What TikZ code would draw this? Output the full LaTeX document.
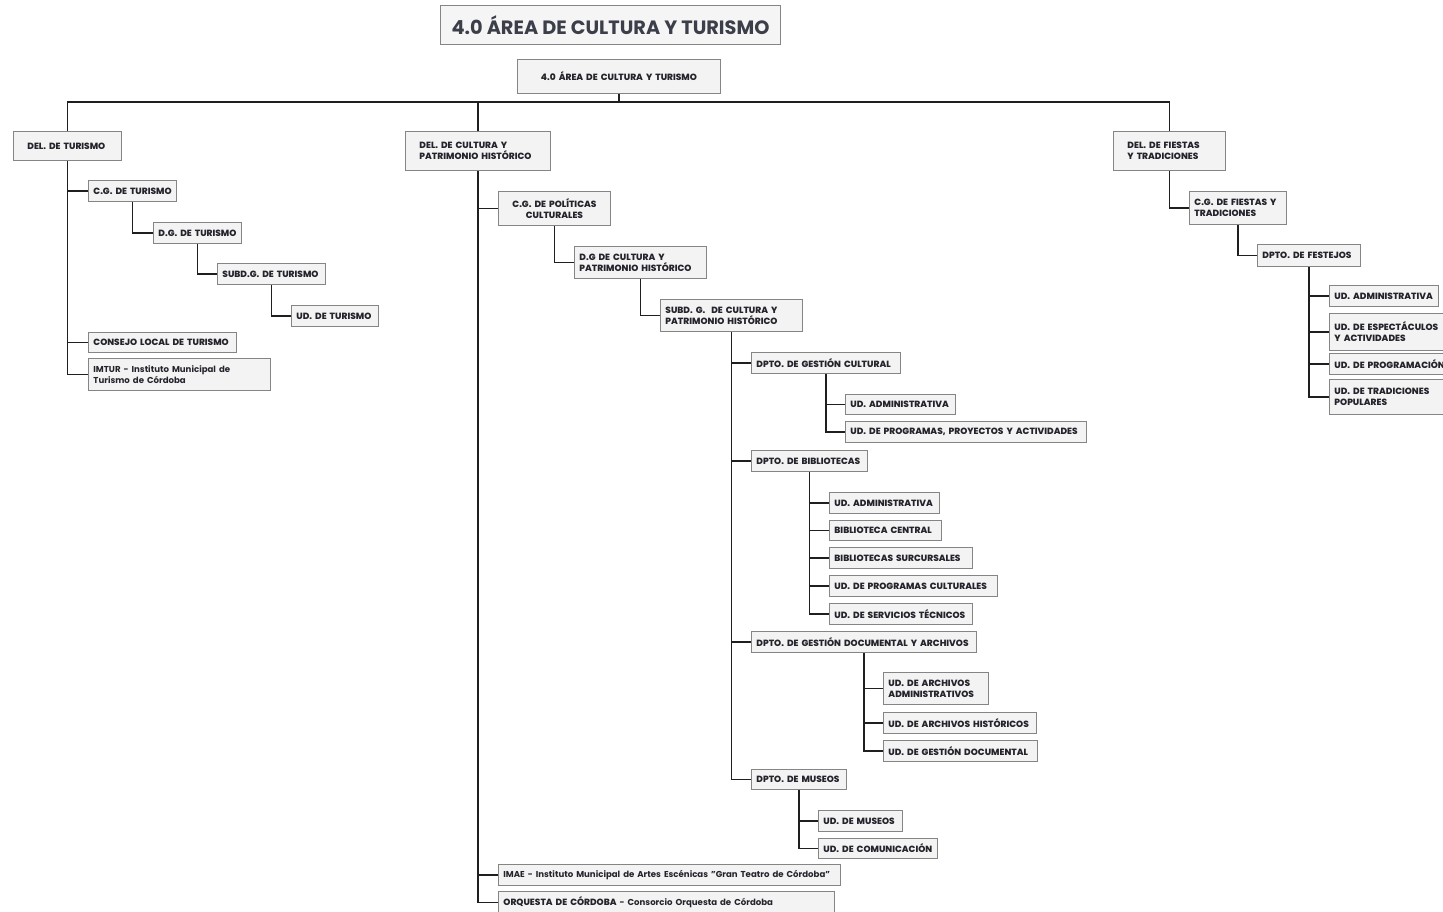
\documentclass[tikz,border=0pt]{standalone}
\usepackage{fontspec}
\setmainfont{Poppins}
\newfontfamily\boxfont{Poppins ExtraBold}
\usetikzlibrary{shadows}
\definecolor{boxfill}{HTML}{F3F3F3}
\definecolor{boxline}{HTML}{858585}
\definecolor{txt}{HTML}{24242C}
\definecolor{titletxt}{HTML}{3C3F4A}
\def\bxal{left}
\newcommand\mixed{\fontsize{8.6}{11}\selectfont\normalfont\bfseries}
\newcommand\bx[7][5]{%
  \pgfmathsetmacro\bw{#5-#3}\pgfmathsetmacro\bh{#6-#4}\pgfmathsetmacro\tw{#5-#3-2*#1}%
  \node[box, anchor=north west, minimum width=\bw pt, minimum height=\bh pt,
        text width=\tw pt, inner xsep=#1pt, align=\bxal] (#2) at (#3,#4) {#7};}
\begin{document}
\begin{tikzpicture}[x=1pt,y=-1pt,
  box/.style={draw=boxline, fill=boxfill, line width=0.9pt, text=txt,
    inner ysep=0pt, font=\fontsize{9}{11}\selectfont\boxfont,
    drop shadow={shadow xshift=0.9pt, shadow yshift=-0.9pt, fill=black, opacity=0.22}},
  conn/.style={draw=black!88, line width=1.7pt}]
\clip (0,0) rectangle (1443,911);
\fill[white] (0,0) rectangle (1443,911);
% title
\node[draw=boxline, fill=white!96!black, line width=1pt, text=titletxt, anchor=north west,
  minimum width=340pt, minimum height=39pt, inner sep=0pt,
  font=\fontsize{19.3}{21}\selectfont\bfseries,
  drop shadow={shadow xshift=0.9pt, shadow yshift=-0.9pt, fill=black, opacity=0.15}] (title) at (440,5) {4.0 ÁREA DE CULTURA Y TURISMO};
% top
{\def\bxal{center}\bx{top}{517}{59}{720}{93}{\mbox{4.0 ÁREA DE CULTURA Y TURISMO}}}
% left branch
\bx[14]{tur}{13}{131}{121}{160}{\mbox{DEL. DE TURISMO}}
\bx{cgt}{88}{180}{176}{201}{\mbox{C.G. DE TURISMO}}
\bx{dgt}{153}{222}{241}{243}{\mbox{D.G. DE TURISMO}}
\bx{sdt}{217}{263}{325}{284}{\mbox{SUBD.G. DE TURISMO}}
\bx{udt}{291}{305}{378}{326}{\mbox{UD. DE TURISMO}}
\bx{clt}{88}{332}{236}{352}{\mbox{CONSEJO LOCAL DE TURISMO}}
\bx{imtur}{88}{358}{270}{390}{\mixed\mbox{IMTUR - Instituto Municipal de}\\\mbox{Turismo de Córdoba}}
% middle branch
\bx[14]{cul}{405}{131}{550}{170}{\mbox{DEL. DE CULTURA Y}\\\mbox{PATRIMONIO HISTÓRICO}}
{\def\bxal{center}\bx{cgp}{498}{191}{610}{225}{\mbox{C.G. DE POLÍTICAS}\\\mbox{CULTURALES}}}
\bx{dgc}{574}{246}{706}{278}{\mbox{D.G DE CULTURA Y}\\\mbox{PATRIMONIO HISTÓRICO}}
\bx{sdc}{660}{299}{802}{331}{\mbox{SUBD. G.\ \ DE CULTURA Y}\\\mbox{PATRIMONIO HISTÓRICO}}
\bx{dgcu}{751}{352}{900}{373}{\mbox{DPTO. DE GESTIÓN CULTURAL}}
\bx{gca}{845}{394}{955}{414}{\mbox{UD. ADMINISTRATIVA}}
\bx{gcp}{845}{421}{1086}{442}{\mbox{UD. DE PROGRAMAS, PROYECTOS Y ACTIVIDADES}}
\bx{bib}{751}{450}{867}{471}{\mbox{DPTO. DE BIBLIOTECAS}}
\bx{ba}{829}{492}{939}{513}{\mbox{UD. ADMINISTRATIVA}}
\bx{bc}{829}{520}{941}{540}{\mbox{BIBLIOTECA CENTRAL}}
\bx{bs}{829}{547}{972}{568}{\mbox{BIBLIOTECAS SURCURSALES}}
\bx{bp}{829}{575}{997}{596}{\mbox{UD. DE PROGRAMAS CULTURALES}}
\bx{bt}{829}{603}{972}{624}{\mbox{UD. DE SERVICIOS TÉCNICOS}}
\bx{doc}{751}{631}{976}{652}{\mbox{DPTO. DE GESTIÓN DOCUMENTAL Y ARCHIVOS}}
\bx{da}{883}{672}{988}{704}{\mbox{UD. DE ARCHIVOS}\\\mbox{ADMINISTRATIVOS}}
\bx{dh}{883}{712}{1036}{733}{\mbox{UD. DE ARCHIVOS HISTÓRICOS}}
\bx{dd}{883}{740}{1037}{761}{\mbox{UD. DE GESTIÓN DOCUMENTAL}}
\bx{mus}{751}{769}{846}{789}{\mbox{DPTO. DE MUSEOS}}
\bx{mm}{818}{810}{902}{831}{\mbox{UD. DE MUSEOS}}
\bx{mc}{818}{838}{937}{858}{\mbox{UD. DE COMUNICACIÓN}}
\bx{imae}{498}{864}{840}{885}{\mixed\mbox{IMAE - Instituto Municipal de Artes Escénicas "Gran Teatro de Córdoba"}}
\bx{orq}{498}{891}{834}{913}{\mbox{ORQUESTA DE CÓRDOBA {\mixed - Consorcio Orquesta de Córdoba}}}
% right branch
\bx[14]{fie}{1113}{131}{1225}{170}{\mbox{DEL. DE FIESTAS}\\\mbox{Y TRADICIONES}}
\bx{cgf}{1189}{191}{1286}{224}{\mbox{C.G. DE FIESTAS Y}\\\mbox{TRADICIONES}}
\bx{fes}{1257}{244}{1360}{266}{\mbox{DPTO. DE FESTEJOS}}
\bx{fa}{1329}{285}{1438}{306}{\mbox{UD. ADMINISTRATIVA}}
\bx{fe}{1329}{313}{1460}{350}{\mbox{UD. DE ESPECTÁCULOS}\\\mbox{Y ACTIVIDADES}}
\bx{fp}{1329}{353}{1460}{374}{\mbox{UD. DE PROGRAMACIÓN}}
\bx{ft}{1329}{379}{1460}{414}{\mbox{UD. DE TRADICIONES}\\\mbox{POPULARES}}
% connectors
\coordinate (bus) at (0,102);
\draw[conn] (top.south) -- (top.south |- bus);
\draw[conn] (tur.north) -- (tur.north |- bus) -- (fie.north |- bus) -- (fie.north);
\draw[conn] (cul.north) -- (cul.north |- bus);
\draw[conn] (tur.south) |- (imtur.west);
\foreach \c in {cgt,clt} \draw[conn] (tur.south |- \c.west) -- (\c.west);
\draw[conn] (cgt.south) |- (dgt.west);
\draw[conn] (dgt.south) |- (sdt.west);
\draw[conn] (sdt.south) |- (udt.west);
\draw[conn] (cul.south) |- (orq.west);
\foreach \c in {cgp,imae} \draw[conn] (cul.south |- \c.west) -- (\c.west);
\draw[conn] (cgp.south) |- (dgc.west);
\draw[conn] (dgc.south) |- (sdc.west);
\draw[conn] (sdc.south) |- (mus.west);
\foreach \c in {dgcu,bib,doc} \draw[conn] (sdc.south |- \c.west) -- (\c.west);
\draw[conn] (dgcu.south) |- (gcp.west);
\draw[conn] (dgcu.south |- gca.west) -- (gca.west);
\draw[conn] (bib.south) |- (bt.west);
\foreach \c in {ba,bc,bs,bp} \draw[conn] (bib.south |- \c.west) -- (\c.west);
\draw[conn] (doc.south) |- (dd.west);
\foreach \c in {da,dh} \draw[conn] (doc.south |- \c.west) -- (\c.west);
\draw[conn] (mus.south) |- (mc.west);
\draw[conn] (mus.south |- mm.west) -- (mm.west);
\draw[conn] (fie.south) |- (cgf.west);
\draw[conn] (cgf.south) |- (fes.west);
\draw[conn] (fes.south) |- (ft.west);
\foreach \c in {fa,fe,fp} \draw[conn] (fes.south |- \c.west) -- (\c.west);
\end{tikzpicture}
\end{document}
